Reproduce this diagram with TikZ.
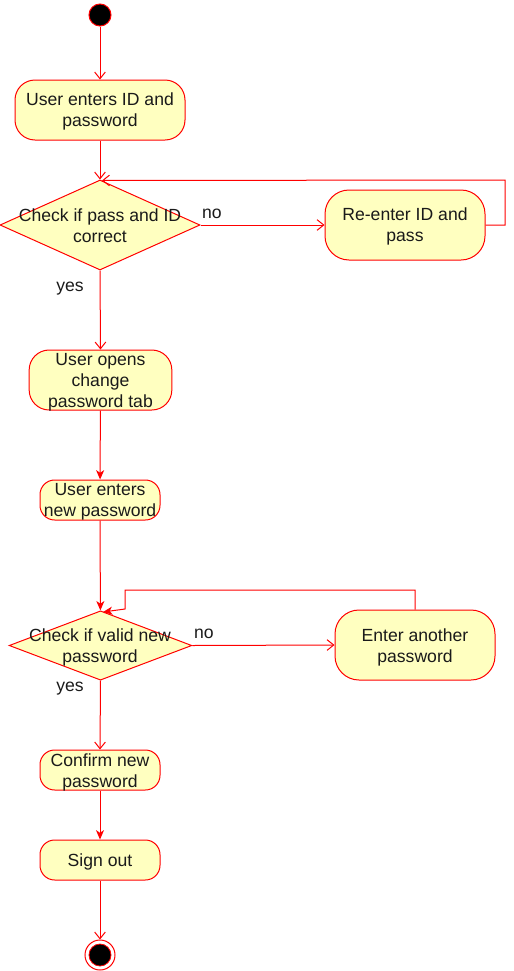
\documentclass[tikz,border=0pt]{standalone}
\usepackage{fontspec}
\setmainfont{Liberation Sans}
\usetikzlibrary{shapes.geometric,arrows.meta}
\definecolor{fillY}{HTML}{FFFFC0}
\definecolor{lineR}{HTML}{FF0000}
\definecolor{txtC}{HTML}{1A1A1A}
\tikzset{
  act/.style={draw=lineR, fill=fillY, inner sep=0pt, line width=0.75pt},
  decision/.style={draw=lineR, fill=fillY, diamond, inner sep=0pt, aspect=1, line width=0.75pt},
  dtext/.style={align=center, inner sep=0pt, text=txtC, font=\fontsize{13.2pt}{15.8pt}\selectfont},
  lbl/.style={inner sep=0pt, text=txtC, font=\fontsize{13.2pt}{15.8pt}\selectfont},
  openarr/.style={draw=lineR, line width=0.75pt, -{Straight Barb[length=5pt,width=8pt]}},
  fillarr/.style={draw=lineR, line width=0.75pt, -{Stealth[length=7pt,width=6pt,inset=2pt]}},
}
\begin{document}
\begin{tikzpicture}[x=0.75pt,y=-0.75pt]
\useasboundingbox (0,0) rectangle (514,971);
% start
\node[circle, draw=lineR, fill=black, minimum size=16.5pt, inner sep=0pt, line width=0.75pt] (start) at (100,15) {};
% boxes
\node[act, rounded corners=15pt, minimum width=127.5pt, minimum height=45pt] (b1) at (100,110) {};
\node[dtext] (b1t) at (100,111.5) {User enters ID and\\password};
\node[decision, minimum width=150pt, minimum height=67.5pt] (d1) at (100,225) {};
\node[dtext] (d1t) at (100,226) {Check if pass and ID\\correct};
\node[act, rounded corners=18pt, minimum width=120pt, minimum height=52.5pt] (b2) at (405,225) {};
\node[dtext] (b2t) at (405,226.5) {Re-enter ID and\\pass};
\node[act, rounded corners=15pt, minimum width=107pt, minimum height=45pt] (b3) at (100.5,380) {};
\node[dtext] (b3t) at (100.5,382) {User opens\\change\\password tab};
\node[act, rounded corners=11pt, minimum width=90pt, minimum height=30pt] (b4) at (100,500) {};
\node[dtext] (b4t) at (100,502) {User enters\\new password};
\node[decision, minimum width=137pt, minimum height=52pt] (d2) at (100.5,645.5) {};
\node[dtext] (d2t) at (100,647) {Check if valid new\\password};
\node[act, rounded corners=18pt, minimum width=120pt, minimum height=52.5pt] (b5) at (415,645) {};
\node[dtext] (b5t) at (415,647) {Enter another\\password};
\node[act, rounded corners=11pt, minimum width=90pt, minimum height=30pt] (b6) at (100,770) {};
\node[dtext] (b6t) at (100,772) {Confirm new\\password};
\node[act, rounded corners=11pt, minimum width=90pt, minimum height=30pt] (b7) at (100,860) {};
\node[dtext] (b7t) at (100,862) {Sign out};
% end
\node[circle, draw=lineR, fill=white, minimum size=22.5pt, inner sep=0pt, line width=0.75pt] (endo) at (100,955) {};
\node[circle, draw=lineR, fill=black, minimum size=16.5pt, inner sep=0pt, line width=0.6pt] (endi) at (100,955) {};
% labels
\node[lbl] (no1) at (212,214) {no};
\node[lbl] (yes1) at (70,289) {yes};
\node[lbl] (no2) at (204,634) {no};
\node[lbl] (yes2) at (70,689) {yes};
% coordinates for loops
\coordinate (l1a) at (505,225);
\coordinate (l1b) at (505,180);
\coordinate (l1c) at (102,180.5);
\coordinate (l2a) at (415,590);
\coordinate (l2b) at (125,590);
\coordinate (l2c) at (125,609);
\coordinate (l2d) at (103,612);
% connectors
\draw[openarr] (start) -- (b1);
\draw[openarr] (b1) -- (d1);
\draw[openarr] (d1.east) -- (b2.west);
\draw[openarr] (b2.east) -- (l1a) -- (l1b) -- (l1c);
\draw[openarr] (d1.south) -- (b3.north);
\draw[fillarr] (b3) -- (b4);
\draw[fillarr] (b4) -- (d2);
\draw[openarr] (d2.east) -- (b5.west);
\draw[fillarr] (b5.north) -- (l2a) -- (l2b) -- (l2c) -- (l2d);
\draw[openarr] (d2.south) -- (b6.north);
\draw[fillarr] (b6) -- (b7);
\draw[openarr] (b7) -- (endo);
\end{tikzpicture}
\end{document}
